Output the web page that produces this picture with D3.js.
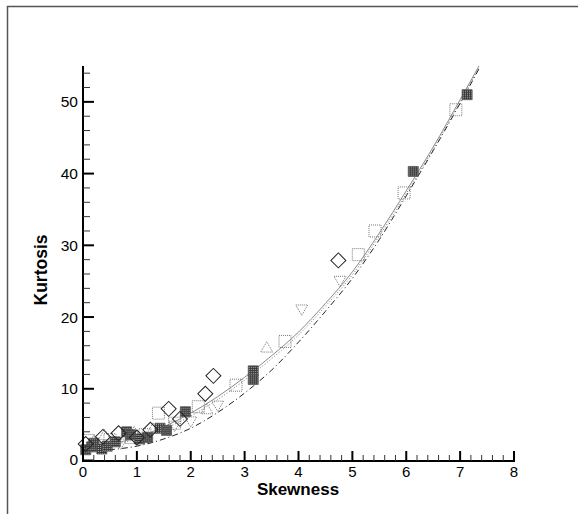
<!DOCTYPE html>
<html><head><meta charset="utf-8">
<script src="https://cdn.jsdelivr.net/npm/d3@7"></script>
<style>body{margin:0;background:#fff}svg{display:block}text{font-family:"Liberation Sans",Arial,Helvetica,sans-serif}</style>
</head><body>
<script>
// ---- data ----
const curveSkew   = [0,0.5,1,1.5,2,2.5,3,3.5,4,4.5,5,5.5,6,6.5,7,7.35];
const solidKurt   = [1.8,2.3,3.2,4.7,6.6,8.9,11.6,14.6,17.9,21.9,26.3,31.7,37.6,43.7,50.3,55.0];
const dottedKurt  = [1.6,2.1,3.0,4.4,6.2,8.5,11.2,14.2,17.5,21.5,25.9,31.3,37.2,43.4,50.0,54.8];
const dashdotKurt = [1.2,1.5,2.0,3.0,4.5,6.7,9.4,12.6,16.5,20.8,25.4,30.8,36.9,43.2,49.8,54.6];

const diamondSkew = [0.05,0.37,0.66,1.0,1.25,1.59,1.8,2.27,2.42,4.74];
const diamondKurt = [2.3,3.3,3.8,3.2,4.3,7.2,5.8,9.3,11.8,27.9];

const filledSkew = [0.05,0.16,0.2,0.35,0.45,0.6,0.81,0.88,1.05,1.2,1.43,1.55,1.9,3.16,3.16,6.13,7.13];
const filledKurt = [1.5,1.9,2.4,1.6,2.0,2.6,4.0,3.6,3.0,3.2,4.5,4.2,6.8,12.5,11.3,40.3,51.0];

const dsqSkew = [0.1,0.5,0.9,1.15,1.40,1.7,2.14,2.84,3.75,5.11,5.42,5.96,6.92];
const dsqKurt = [2.8,2.9,3.2,3.6,6.6,5.2,7.5,10.5,16.6,28.7,32.0,37.3,48.9];

const invTriSkew = [0.3,0.7,1.2,1.7,2.0,2.5,4.06,4.77];
const invTriKurt = [2.0,2.5,3.5,5.0,5.6,7.8,21.2,25.2];

const triSkew = [0.2,0.4,0.95,1.3,2.3,3.41];
const triKurt = [2.6,3.4,3.8,4.3,7.0,15.6];

const xTicks = [0,1,2,3,4,5,6,7,8];
const yTicks = [0,10,20,30,40,50];

// ---- chart ----
const W = 578, H = 514;
const svg = d3.select("body").append("svg").attr("width", W).attr("height", H);

const defs = svg.append("defs");
const pat = defs.append("pattern").attr("id","ht").attr("width",2).attr("height",2).attr("patternUnits","userSpaceOnUse");
pat.append("rect").attr("width",2).attr("height",2).attr("fill","#333");
pat.append("rect").attr("width",1).attr("height",1).attr("fill","#bbb");

// frame
svg.append("rect").attr("x",7.5).attr("y",6.5).attr("width",700).attr("height",700)
  .attr("fill","none").attr("stroke","#555").attr("stroke-width",1.5);

const x = d3.scaleLinear().domain([0,8]).range([83,514]);
const y = d3.scaleLinear().domain([0,55]).range([460.5,66]);

// curves
const line = d3.line().x(d=>x(d[0])).y(d=>y(d[1])).curve(d3.curveMonotoneX);
const mk = arr => curveSkew.map((s,i)=>[s,arr[i]]);
svg.append("path").attr("d",line(mk(solidKurt))).attr("fill","none").attr("stroke","#8a8a8a").attr("stroke-width",1);
svg.append("path").attr("d",line(mk(dottedKurt))).attr("fill","none").attr("stroke","#777").attr("stroke-width",1).attr("stroke-dasharray","1,2");
svg.append("path").attr("d",line(mk(dashdotKurt))).attr("fill","none").attr("stroke","#222").attr("stroke-width",1).attr("stroke-dasharray","6,3,1,3");

// markers
function markers(sx, ky, type, size, rot, style){
  const g = svg.append("g");
  g.selectAll("path").data(sx.map((s,i)=>[s,ky[i]])).join("path")
    .attr("d", d3.symbol().type(type).size(size)())
    .attr("transform", d=>`translate(${x(d[0])},${y(d[1])}) rotate(${rot})`)
    .each(function(){ const p=d3.select(this); for(const k in style) p.attr(k, style[k]); });
}
markers(dsqSkew, dsqKurt, d3.symbolSquare, 144, 0, {fill:"none",stroke:"#777","stroke-width":1,"stroke-dasharray":"1,1"});
markers(invTriSkew, invTriKurt, d3.symbolTriangle, 62, 180, {fill:"none",stroke:"#777","stroke-width":1,"stroke-dasharray":"1,1"});
markers(triSkew, triKurt, d3.symbolTriangle, 62, 0, {fill:"none",stroke:"#777","stroke-width":1,"stroke-dasharray":"1,1"});
markers(filledSkew, filledKurt, d3.symbolSquare, 100, 0, {fill:"url(#ht)",stroke:"#555","stroke-width":0.8});
markers(diamondSkew, diamondKurt, d3.symbolSquare, 112, 45, {fill:"none",stroke:"#222","stroke-width":1});

// axes
const axG = svg.append("g");
axG.append("line").attr("x1",83).attr("x2",83).attr("y1",y(55)).attr("y2",461.5).attr("stroke","#000").attr("stroke-width",2);
axG.append("line").attr("x1",82).attr("x2",515).attr("y1",461).attr("y2",461).attr("stroke","#000").attr("stroke-width",2);

// y ticks
const yMinor = d3.range(0,55.01,2).filter(v=>v%10!==0);
axG.selectAll(".ymin").data(yMinor).join("line")
  .attr("x1",83).attr("x2",90).attr("y1",d=>y(d)).attr("y2",d=>y(d)).attr("stroke","#333").attr("stroke-width",1);
axG.selectAll(".ymaj").data(yTicks).join("line")
  .attr("x1",83).attr("x2",94).attr("y1",d=>y(d)).attr("y2",d=>y(d)).attr("stroke","#000").attr("stroke-width",2);
axG.selectAll(".ylab").data(yTicks).join("text")
  .attr("x",78).attr("y",d=>d===0?y(d)-1:y(d)).attr("dy","0.36em")
  .attr("text-anchor","end").attr("font-size",15.5).text(d=>d);

// x ticks
const xMinor = d3.range(0,8.001,0.2).filter(v=>Math.abs(v-Math.round(v))>1e-6);
axG.selectAll(".xmin").data(xMinor).join("line")
  .attr("x1",d=>x(d)).attr("x2",d=>x(d)).attr("y1",461).attr("y2",455).attr("stroke","#333").attr("stroke-width",1);
axG.selectAll(".xmaj").data(xTicks).join("line")
  .attr("x1",d=>x(d)).attr("x2",d=>x(d)).attr("y1",461).attr("y2",451).attr("stroke","#000").attr("stroke-width",2);
axG.selectAll(".xlab").data(xTicks).join("text")
  .attr("x",d=>x(d)).attr("y",476.5).attr("text-anchor","middle").attr("font-size",15).text(d=>d);

// titles
svg.append("text").attr("x",298).attr("y",494.5).attr("text-anchor","middle")
  .attr("font-size",17).attr("font-weight","bold").text("Skewness");
svg.append("text").attr("transform","translate(47,270) rotate(-90)").attr("text-anchor","middle")
  .attr("font-size",17.5).attr("font-weight","bold").text("Kurtosis");
</script>
</body></html>
